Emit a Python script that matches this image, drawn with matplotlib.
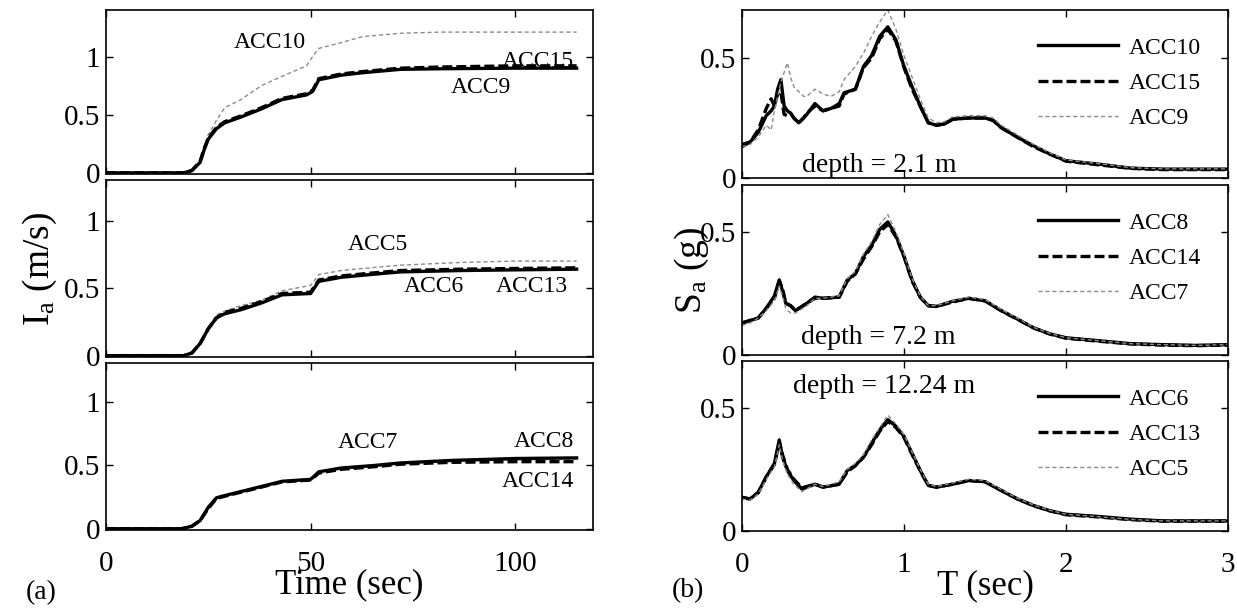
import matplotlib
matplotlib.use("Agg")
import matplotlib.pyplot as plt

plt.rcParams["font.family"] = ["Liberation Serif", "DejaVu Serif"]
plt.rcParams["mathtext.fontset"] = "custom"
plt.rcParams["mathtext.rm"] = "Liberation Serif"
plt.rcParams["mathtext.it"] = "Liberation Serif"

# ---- (a) Arias intensity, time in sec ----
t_top = [0, 10, 19, 21, 23, 24, 25, 27, 29, 33, 38, 43, 49, 50.5, 52, 57.5, 62.5, 72, 82, 100, 115]
acc9 = [0, 0, 0, 0.02, 0.09, 0.2, 0.29, 0.38, 0.43, 0.48, 0.55, 0.63, 0.67, 0.7, 0.8, 0.84, 0.86, 0.89, 0.895, 0.9, 0.9]
acc15 = [0, 0, 0, 0.02, 0.1, 0.21, 0.3, 0.39, 0.44, 0.49, 0.56, 0.64, 0.68, 0.71, 0.81, 0.85, 0.87, 0.9, 0.91, 0.92, 0.92]
acc10 = [0, 0, 0, 0.02, 0.1, 0.22, 0.33, 0.45, 0.56, 0.63, 0.75, 0.83, 0.92, 1.0, 1.07, 1.12, 1.17, 1.2, 1.21, 1.21, 1.21]

t_mid = [0, 10, 19, 21, 23, 25, 27, 29, 33, 38, 43, 50, 52, 57.5, 64.5, 72, 87, 100, 115]
acc6 = [0, 0, 0, 0.02, 0.09, 0.2, 0.28, 0.31, 0.34, 0.39, 0.45, 0.46, 0.55, 0.58, 0.6, 0.62, 0.63, 0.635, 0.64]
acc13 = [0, 0, 0, 0.02, 0.09, 0.2, 0.28, 0.32, 0.35, 0.4, 0.46, 0.47, 0.56, 0.59, 0.61, 0.63, 0.64, 0.645, 0.65]
acc5 = [0, 0, 0, 0.02, 0.09, 0.21, 0.3, 0.33, 0.37, 0.41, 0.48, 0.52, 0.6, 0.63, 0.65, 0.67, 0.69, 0.7, 0.7]

t_bot = [0, 10, 18.5, 21, 23, 25, 27, 30, 35, 43, 50, 52, 57.5, 65.5, 72, 84.5, 100, 115]
acc8 = [0, 0, 0, 0.02, 0.065, 0.17, 0.245, 0.27, 0.31, 0.375, 0.39, 0.45, 0.48, 0.5, 0.52, 0.54, 0.555, 0.56]
acc14 = [0, 0, 0, 0.02, 0.065, 0.16, 0.24, 0.265, 0.305, 0.37, 0.385, 0.44, 0.47, 0.49, 0.51, 0.525, 0.53, 0.53]
acc7 = [0, 0, 0, 0.02, 0.06, 0.16, 0.24, 0.27, 0.31, 0.37, 0.385, 0.45, 0.475, 0.495, 0.515, 0.535, 0.545, 0.55]

# ---- (b) response spectra, period in sec ----
T_top = [0, 0.05, 0.1, 0.15, 0.18, 0.2, 0.22, 0.24, 0.26, 0.28, 0.3, 0.32, 0.35, 0.38, 0.4, 0.45, 0.5, 0.55,
         0.6, 0.63, 0.7, 0.75, 0.8, 0.85, 0.9, 0.95, 1.0, 1.05, 1.1, 1.15, 1.2, 1.25, 1.3, 1.4, 1.5, 1.55,
         1.6, 1.7, 1.8, 1.9, 2.0, 2.2, 2.4, 2.6, 2.8, 3.0]
acc10_sa = [0.14, 0.15, 0.19, 0.26, 0.28, 0.3, 0.37, 0.41, 0.3, 0.28, 0.27, 0.25, 0.23, 0.25, 0.265, 0.31, 0.28, 0.29,
            0.31, 0.355, 0.37, 0.465, 0.51, 0.59, 0.63, 0.576, 0.465, 0.38, 0.3, 0.23, 0.22, 0.225, 0.245, 0.25, 0.25, 0.24,
            0.21, 0.17, 0.134, 0.1, 0.072, 0.058, 0.041, 0.037, 0.037, 0.037]
acc15_sa = [0.13, 0.15, 0.2, 0.29, 0.33, 0.3, 0.35, 0.36, 0.265, 0.26, 0.27, 0.25, 0.23, 0.25, 0.27, 0.3, 0.28, 0.29,
            0.3, 0.35, 0.37, 0.46, 0.5, 0.58, 0.62, 0.57, 0.46, 0.37, 0.3, 0.23, 0.22, 0.225, 0.245, 0.25, 0.25, 0.24,
            0.21, 0.17, 0.13, 0.1, 0.07, 0.055, 0.04, 0.035, 0.035, 0.035]
acc9_sa = [0.13, 0.14, 0.17, 0.22, 0.2, 0.28, 0.34, 0.4, 0.44, 0.48, 0.42, 0.38, 0.36, 0.34, 0.34, 0.37, 0.35, 0.34,
           0.36, 0.41, 0.465, 0.52, 0.59, 0.65, 0.7, 0.62, 0.51, 0.42, 0.33, 0.25, 0.23, 0.235, 0.255, 0.26, 0.26, 0.25,
           0.22, 0.18, 0.14, 0.105, 0.075, 0.06, 0.043, 0.038, 0.038, 0.038]

T_mid = [0, 0.05, 0.1, 0.15, 0.2, 0.23, 0.25, 0.27, 0.3, 0.33, 0.4, 0.45, 0.5, 0.6, 0.65, 0.7, 0.75, 0.8, 0.85,
         0.9, 0.95, 1.0, 1.05, 1.1, 1.15, 1.2, 1.3, 1.4, 1.5, 1.6, 1.7, 1.8, 1.9, 2.0, 2.2, 2.4, 2.6, 2.8, 3.0]
acc8_sa = [0.13, 0.14, 0.15, 0.19, 0.24, 0.305, 0.26, 0.21, 0.2, 0.18, 0.21, 0.235, 0.23, 0.235, 0.305, 0.33,
           0.4, 0.445, 0.51, 0.54, 0.485, 0.4, 0.305, 0.235, 0.2, 0.197, 0.218, 0.23, 0.22, 0.18, 0.146, 0.11,
           0.086, 0.07, 0.058, 0.046, 0.042, 0.039, 0.042]
acc14_sa = [0.13, 0.14, 0.15, 0.19, 0.23, 0.3, 0.27, 0.21, 0.2, 0.18, 0.21, 0.23, 0.23, 0.235, 0.3, 0.33,
            0.39, 0.44, 0.5, 0.53, 0.48, 0.4, 0.3, 0.235, 0.2, 0.197, 0.215, 0.23, 0.22, 0.18, 0.145, 0.11,
            0.085, 0.068, 0.056, 0.045, 0.04, 0.038, 0.04]
acc7_sa = [0.12, 0.13, 0.15, 0.18, 0.22, 0.28, 0.24, 0.19, 0.17, 0.17, 0.2, 0.23, 0.23, 0.24, 0.31, 0.34,
           0.41, 0.46, 0.53, 0.57, 0.5, 0.41, 0.31, 0.24, 0.2, 0.2, 0.22, 0.235, 0.225, 0.185, 0.15, 0.112,
           0.088, 0.07, 0.058, 0.046, 0.042, 0.039, 0.042]

T_bot = [0, 0.05, 0.1, 0.15, 0.2, 0.23, 0.25, 0.28, 0.32, 0.37, 0.45, 0.5, 0.6, 0.65, 0.7, 0.75, 0.8, 0.85,
         0.9, 0.95, 1.0, 1.05, 1.1, 1.15, 1.2, 1.3, 1.4, 1.5, 1.6, 1.7, 1.8, 1.9, 2.0, 2.2, 2.4, 2.6, 2.8, 3.0]
acc6_sa = [0.137, 0.13, 0.157, 0.22, 0.274, 0.37, 0.3, 0.246, 0.205, 0.17, 0.19, 0.178, 0.19, 0.246, 0.267,
           0.3, 0.356, 0.41, 0.452, 0.425, 0.384, 0.315, 0.246, 0.185, 0.178, 0.19, 0.205, 0.2, 0.164, 0.13,
           0.103, 0.082, 0.068, 0.059, 0.048, 0.041, 0.041, 0.041]
acc13_sa = [0.135, 0.13, 0.155, 0.22, 0.27, 0.36, 0.31, 0.25, 0.21, 0.175, 0.19, 0.178, 0.19, 0.24, 0.265,
            0.3, 0.35, 0.405, 0.445, 0.42, 0.38, 0.31, 0.245, 0.185, 0.178, 0.19, 0.205, 0.2, 0.165, 0.13,
            0.103, 0.082, 0.066, 0.057, 0.046, 0.04, 0.04, 0.04]
acc5_sa = [0.13, 0.125, 0.15, 0.21, 0.26, 0.35, 0.29, 0.23, 0.19, 0.16, 0.19, 0.18, 0.2, 0.25, 0.275,
           0.31, 0.37, 0.42, 0.47, 0.435, 0.39, 0.32, 0.25, 0.19, 0.18, 0.195, 0.21, 0.205, 0.168, 0.133,
           0.105, 0.084, 0.068, 0.058, 0.047, 0.041, 0.041, 0.041]

solid = dict(color="black", lw=2.4, ls="-")
dashed = dict(color="black", lw=2.4, ls=(0, (3, 1.2)))
gray = dict(color="0.55", lw=1.0, ls=(0, (3, 2)))

W, H = 1237, 612
fig = plt.figure(figsize=(W / 100, H / 100), dpi=100)

rows_left = [(10, 174), (180, 357), (363, 530)]
ylim_left = [1.40, 1.30, 1.31]
rows_right = [(10, 178), (185, 355), (361, 531)]
ylim_right = [0.70, 0.69, 0.69]


def make_ax(x0, x1, r):
    y0, y1 = r
    return fig.add_axes([x0 / W, 1 - y1 / H, (x1 - x0) / W, (y1 - y0) / H])


def style(ax):
    ax.tick_params(direction="in", top=True, right=True, length=5, width=1, labelsize=21)
    ax.tick_params(axis="y", pad=4)
    ax.tick_params(axis="x", pad=15)
    for s in ax.spines.values():
        s.set_linewidth(1.2)


left_data = [
    (t_top, acc9, acc15, acc10, [("ACC10", 40, 1.12), ("ACC15", 105.5, 0.96), ("ACC9", 91.5, 0.73)]),
    (t_mid, acc6, acc13, acc5, [("ACC5", 66.5, 0.82), ("ACC6", 80, 0.51), ("ACC13", 104, 0.51)]),
    (t_bot, acc8, acc14, acc7, [("ACC7", 64, 0.68), ("ACC8", 107, 0.69), ("ACC14", 105.5, 0.37)]),
]
right_data = [
    (T_top, acc10_sa, acc15_sa, acc9_sa, ("ACC10", "ACC15", "ACC9"), ("depth = 2.1 m", 0.85, 0.054)),
    (T_mid, acc8_sa, acc14_sa, acc7_sa, ("ACC8", "ACC14", "ACC7"), ("depth = 7.2 m", 0.84, 0.073)),
    (T_bot, acc6_sa, acc13_sa, acc5_sa, ("ACC6", "ACC13", "ACC5"), ("depth = 12.24 m", 0.88, 0.585)),
]

for i, (r, yl, (t, a, b, c, notes)) in enumerate(zip(rows_left, ylim_left, left_data)):
    ax = make_ax(106, 593, r)
    ax.plot(t, c, **gray)
    ax.plot(t, b, **dashed)
    ax.plot(t, a, **solid)
    ax.set_xlim(0, 119)
    ax.set_ylim(-0.01, yl)
    ax.set_yticks([0, 0.5, 1])
    ax.set_yticklabels(["0", "0.5", "1"])
    ax.set_xticks([0, 50, 100])
    style(ax)
    if i < 2:
        ax.tick_params(labelbottom=False)
    else:
        ax.set_xlabel("Time (sec)", fontsize=25, labelpad=-6)
    if i == 1:
        ax.set_ylabel(r"$\mathrm{I_a}$ (m/s)", fontsize=27, labelpad=4)
    for txt, x, y in notes:
        ax.text(x, y, txt, fontsize=17, ha="center", va="center")

for i, (r, yl, (T, a, b, c, labels, depth)) in enumerate(zip(rows_right, ylim_right, right_data)):
    ax = make_ax(742, 1228, r)
    ax.plot(T, a, label=labels[0], **solid)
    ax.plot(T, b, label=labels[1], **dashed)
    ax.plot(T, c, label=labels[2], **gray)
    ax.set_xlim(0, 3)
    ax.set_ylim(0, yl)
    ax.set_yticks([0, 0.5])
    ax.set_yticklabels(["0", "0.5"])
    ax.set_xticks([0, 1, 2, 3])
    style(ax)
    if i < 2:
        ax.tick_params(labelbottom=False)
    else:
        ax.set_xlabel("T (sec)", fontsize=25, labelpad=-6)
    if i == 1:
        ax.set_ylabel(r"$\mathrm{S_a}$ (g)", fontsize=27, labelpad=-8)
    ax.legend(loc="upper right", frameon=False, fontsize=17, handlelength=3.4,
              labelspacing=0.58, borderaxespad=0.75, handletextpad=0.45)
    ax.text(depth[1], depth[2], depth[0], fontsize=20, ha="center", va="center")

fig.text(41 / W, 1 - 593 / H, "(a)", fontsize=20, ha="center", va="center")
fig.text(688 / W, 1 - 591 / H, "(b)", fontsize=20, ha="center", va="center")

fig.savefig("out.png", dpi=100)
